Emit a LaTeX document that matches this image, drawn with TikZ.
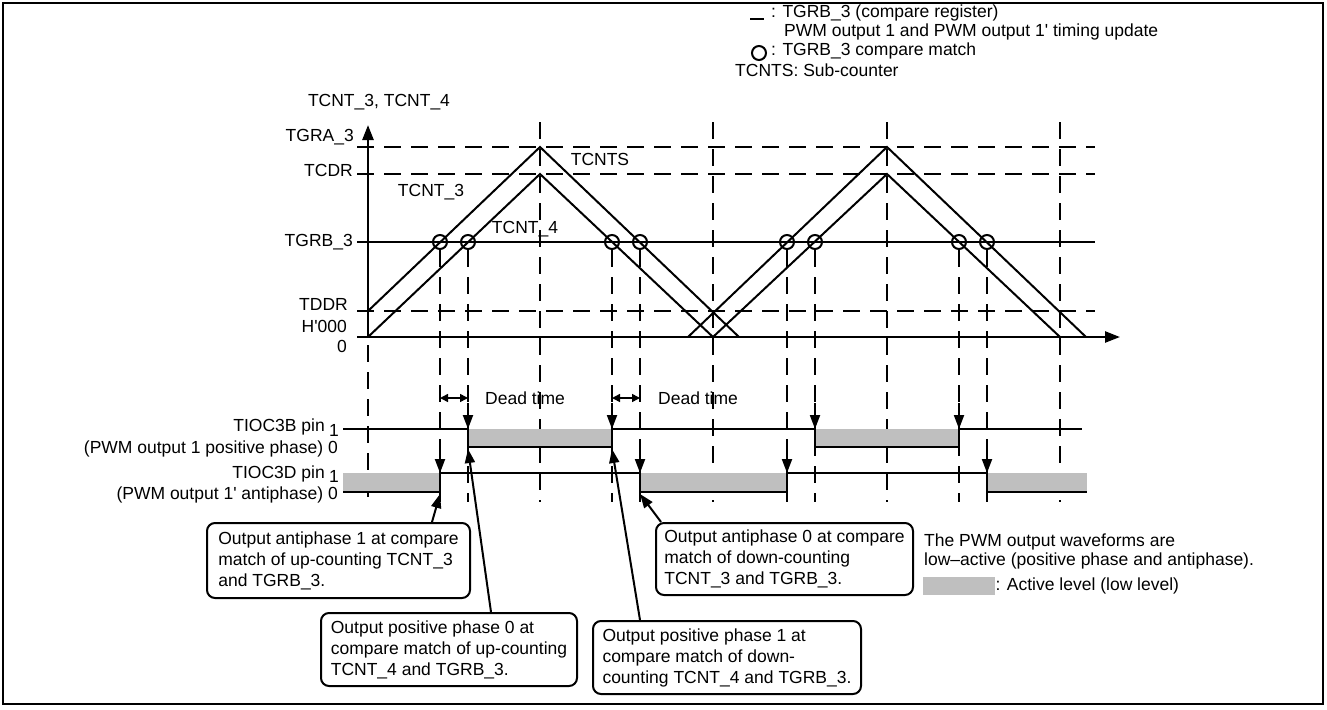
\documentclass[tikz,border=0pt]{standalone}
\usepackage{fontspec}
\setmainfont{Liberation Sans}
\usepackage{tikz}
\usetikzlibrary{arrows.meta,positioning}
\tikzstyle{lbl} = [inner sep=0pt, font=\fontsize{17.5}{21}\selectfont]
\tikzstyle{callout} = [rectangle, rounded corners=8pt, draw=black, line width=2pt, align=left, inner xsep=7pt, inner ysep=5pt, anchor=north west, font=\fontsize{17.5}{21}\selectfont]
\tikzstyle{wave} = [line width=2pt]
\tikzstyle{guide} = [line width=2pt, dash pattern=on 17pt off 10pt]
\tikzstyle{axis} = [line width=2.5pt, -{Triangle[length=15pt,width=11pt]}]
\tikzstyle{arrow} = [line width=2pt, -{Triangle[length=14pt,width=10pt]}]
\tikzstyle{deadarrow} = [line width=1.5pt, {Triangle[length=8pt,width=8pt]}-{Triangle[length=8pt,width=8pt]}]
\tikzstyle{match} = [circle, draw=black, line width=2pt, minimum size=14pt, inner sep=0pt]
\tikzstyle{active} = [fill=black!25, draw=none]

\begin{document}
\begin{tikzpicture}[x=1pt,y=-1pt]
\useasboundingbox (0,0) rectangle (1327,709);
\draw[line width=2.5pt] (3,3) rectangle (1323,704);

%图例
\draw[line width=2.5pt] (750,19) -- (764,19);
\node[lbl, anchor=west] (legreg) at (771,13) {: TGRB\_3 (compare register)};
\node[lbl, anchor=west] (legupd) at (784,32) {PWM output 1 and PWM output 1\textquotesingle{} timing update};
\node[match] (legcirc) at (759,53) {};
\node[lbl, anchor=west] (legmatch) at (771,51) {: TGRB\_3 compare match};
\node[lbl, anchor=west] (legsub) at (735,70) {TCNTS: Sub-counter};

%计数器坐标轴和寄存器值
\node[lbl] (ytitle) at (379,102) {TCNT\_3, TCNT\_4};
\node[lbl, anchor=east] (ltgra) at (354,137) {TGRA\_3};
\node[lbl, anchor=east] (ltcdr) at (353,170) {TCDR};
\node[lbl, anchor=east] (ltgrb) at (353,242) {TGRB\_3};
\node[lbl, anchor=east] (ltddr) at (348,304) {TDDR};
\node[lbl, anchor=east] (lhzero) at (347,326) {H\textquotesingle 000};
\node[lbl, anchor=east] (lzero) at (347,346) {0};

\draw[guide] (357,147) -- (1095,147);
\draw[guide] (357,174) -- (1095,174);
\draw[wave] (357,242) -- (1095,242);
\draw[guide] (357,311) -- (1095,311);

\foreach \x in {540,713,887,1060}
  \draw[guide] (\x,122) -- (\x,502);
\foreach \x in {440,468,612,640,787,815,959,987}
  \draw[guide] (\x,250) -- (\x,502);
\draw[guide] (368,345) -- (368,502);

\draw[axis] (368,337) -- (368,125);
\draw[axis] (357,337) -- (1120,337);

%三角波
\draw[wave] (368,311) -- (540,147) -- (739,337);
\draw[wave] (688,337) -- (887,147) -- (1086,337);
\draw[wave] (368,337) -- (540,174) -- (713,337) -- (887,174) -- (1060,337);

\foreach \x in {440,468,612,640,787,815,959,987}
  \node[match] at (\x,242) {};

\node[lbl] (ltcnts) at (600,159) {TCNTS};
\node[lbl] (ltcnt3) at (431,192) {TCNT\_3};
\node[lbl] (ltcnt4) at (525,229) {TCNT\_4};

%死区时间
\coordinate (dtA1) at (440,398);
\coordinate (dtA2) at (468,398);
\coordinate (dtB1) at (612,398);
\coordinate (dtB2) at (640,398);
\draw[deadarrow] (dtA1) -- (dtA2);
\draw[deadarrow] (dtB1) -- (dtB2);
\node[lbl, anchor=west] (dead1) at (485,398) {Dead time};
\node[lbl, anchor=west] (dead2) at (658,398) {Dead time};

%输出波形
\node[lbl, anchor=east] (pinB) at (325,427) {TIOC3B pin};
\node[lbl, right=4pt of pinB, yshift=-3pt] (pinBhi) {1};
\node[lbl, anchor=east] (pinBlo) at (338,449) {(PWM output 1 positive phase) 0};
\node[lbl, anchor=east] (pinD) at (325,474) {TIOC3D pin};
\node[lbl, right=4pt of pinD, yshift=-2pt] (pinDhi) {1};
\node[lbl, anchor=east] (pinDlo) at (338,495) {(PWM output 1\textquotesingle{} antiphase) 0};

\fill[active] (468,429) rectangle (612,447);
\fill[active] (815,429) rectangle (959,447);
\fill[active] (343,473) rectangle (440,492);
\fill[active] (640,473) rectangle (787,492);
\fill[active] (987,473) rectangle (1087,492);
\draw[wave] (343,429) -- (468,429) -- (468,447) -- (612,447) -- (612,429) -- (815,429) -- (815,447) -- (959,447) -- (959,429) -- (1082,429);
\draw[wave] (343,492) -- (440,492) -- (440,473) -- (640,473) -- (640,492) -- (787,492) -- (787,473) -- (987,473) -- (987,492) -- (1087,492);

\foreach \x in {468,612,815,959}
  \draw[arrow] (\x,403) -- (\x,429);
\foreach \x in {440,640,787,987}
  \draw[arrow] (\x,447) -- (\x,473);

%说明框
\node[callout, minimum width=263pt, minimum height=75pt] (box1) at (206,522) {Output antiphase 1 at compare\\match of up-counting TCNT\_3\\and TGRB\_3.};
\node[callout, minimum width=256pt, minimum height=73pt] (box2) at (320,612) {Output positive phase 0 at\\compare match of up-counting\\TCNT\_4 and TGRB\_3.};
\node[callout, minimum width=268pt, minimum height=73pt] (box3) at (592,620) {Output positive phase 1 at\\compare match of down-\\counting TCNT\_4 and TGRB\_3.};
\node[callout, minimum width=257pt, minimum height=72pt] (box4) at (655,522) {Output antiphase 0 at compare\\match of down-counting\\TCNT\_3 and TGRB\_3.};

\coordinate (tipD1) at (440,494);
\coordinate (tipB0) at (468,449);
\coordinate (tipB1) at (612,449);
\coordinate (tipD0) at (640,494);
\draw[arrow] ([xshift=226pt]box1.north west) -- (tipD1);
\draw[arrow] ([xshift=171pt]box2.north west) -- (tipB0);
\draw[arrow] ([xshift=48pt]box3.north west) -- (tipB1);
\draw[arrow] ([xshift=6pt]box4.north west) -- (tipD0);

%右侧注释
\node[lbl, anchor=west] (note1) at (924,542) {The PWM output waveforms are};
\node[lbl, anchor=west] (note2) at (924,561) {low--active (positive phase and antiphase).};
\node[active, minimum width=72pt, minimum height=18pt, anchor=north west] (swatch) at (923,577) {};
\node[lbl, anchor=west, right=0pt of swatch] (swatchtxt) {: Active level (low level)};
\end{tikzpicture}
\end{document}
